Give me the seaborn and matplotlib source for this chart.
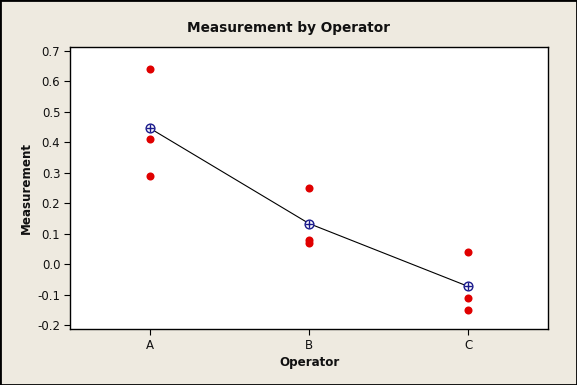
import matplotlib
matplotlib.use("Agg")
import matplotlib.pyplot as plt
import seaborn as sns
import pandas as pd
from matplotlib.patches import Rectangle

operators = ["A", "B", "C"]
meas_A = [0.64, 0.41, 0.29]
meas_B = [0.25, 0.08, 0.07]
meas_C = [0.04, -0.11, -0.15]

data = pd.DataFrame({
    "Operator": ["A"] * len(meas_A) + ["B"] * len(meas_B) + ["C"] * len(meas_C),
    "Measurement": meas_A + meas_B + meas_C,
})
means = data.groupby("Operator", sort=False)["Measurement"].mean().reset_index()

sns.set_style("ticks")
plt.rcParams["font.family"] = ["DejaVu Sans"]

bg = "#eeeae0"
fig = plt.figure(figsize=(5.77, 3.85), dpi=100, facecolor=bg)
ax = fig.add_axes([70 / 577, 1 - 329 / 385, 478 / 577, 282 / 385])
ax.set_facecolor("white")

sns.stripplot(data=data, x="Operator", y="Measurement", order=operators,
              jitter=False, color="#e00000", size=5.8, linewidth=0, ax=ax, zorder=3)
sns.lineplot(data=means, x="Operator", y="Measurement", color="black",
             linewidth=0.8, ax=ax, zorder=2)
ax.plot(means["Operator"], means["Measurement"], linestyle="none", marker="o",
        markersize=6.3, markerfacecolor="white", markeredgecolor="#1a1a8c",
        markeredgewidth=1.0, zorder=4)
ax.plot(means["Operator"], means["Measurement"], linestyle="none", marker="+",
        markersize=6.3, markeredgecolor="#1a1a8c", markeredgewidth=1.0, zorder=5)

ax.set_xlim(-0.5, 2.5)
ax.set_ylim(-0.213, 0.713)
ax.set_yticks([-0.2, -0.1, 0.0, 0.1, 0.2, 0.3, 0.4, 0.5, 0.6, 0.7])
ax.set_yticklabels(["-0.2", "-0.1", "0.0", "0.1", "0.2", "0.3", "0.4", "0.5", "0.6", "0.7"])
ax.tick_params(axis="both", labelsize=8.5, length=4, width=0.8, color="black",
               labelcolor="#111111", pad=3)
for s in ax.spines.values():
    s.set_visible(True)
    s.set_linewidth(1.0)
    s.set_color("black")

ax.set_xlabel("Operator", fontsize=8.6, fontweight="bold", color="#111111")
ax.set_ylabel("Measurement", fontsize=8.6, fontweight="bold", color="#111111")
ax.xaxis.set_label_coords(0.5, -0.095)
ax.yaxis.set_label_coords(-0.077, 0.5)
fig.text(0.5, 1 - 28 / 385, "Measurement by Operator", ha="center", va="center",
         fontsize=9.8, fontweight="bold", color="#111111")

fig.patches.append(Rectangle((0, 0), 1, 1, transform=fig.transFigure, fill=False,
                             edgecolor="black", linewidth=2.0))

fig.savefig("out.png", dpi=100, facecolor=bg)
